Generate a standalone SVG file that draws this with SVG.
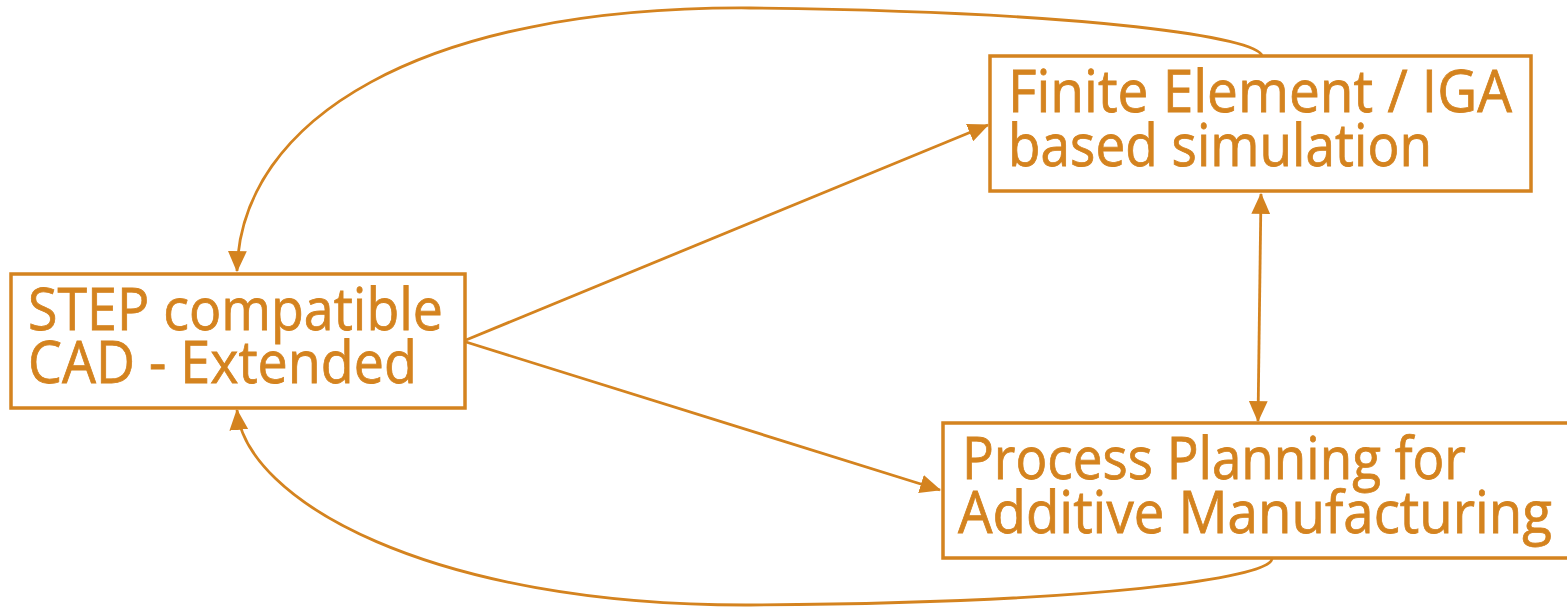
<svg xmlns="http://www.w3.org/2000/svg" width="1567" height="607" viewBox="0 0 1567 607">
  <style>
    .box { fill: #ffffff; stroke: #D4831F; stroke-width: 3.5; }
    .label { font-family: "Open Sans", "Noto Sans", sans-serif; font-size: 59px; fill: #D4831F; stroke: #D4831F; stroke-width: 0.8; }
    .link { fill: none; stroke: #D4831F; stroke-width: 2.8; }
  </style>
  <defs>
    <marker id="arrow" markerUnits="userSpaceOnUse" markerWidth="21" markerHeight="19" refX="18" refY="8.5" orient="auto-start-reverse" viewBox="0 0 19 17">
      <path d="M0,0 L19,8.5 L0,17 Z" fill="#D4831F"/>
    </marker>
  </defs>

  <g id="connectors">
    <!-- CAD to simulation -->
    <path class="link" d="M466,340 L988,125" marker-end="url(#arrow)"/>
    <!-- CAD to process planning -->
    <path class="link" d="M466,342 L940,490" marker-end="url(#arrow)"/>
    <!-- simulation <-> process planning -->
    <path class="link" d="M1261,194 L1258,421" marker-start="url(#arrow)" marker-end="url(#arrow)"/>
    <!-- feedback from simulation to CAD -->
    <path class="link" d="M1262,56 C1258,38 1100,12 750,8 C420,6 240,120 237,271" marker-end="url(#arrow)"/>
    <!-- feedback from process planning to CAD -->
    <path class="link" d="M1272,559 C1268,578 1100,603 750,605 C430,606 245,500 237,410" marker-end="url(#arrow)"/>
  </g>

  <g id="node-cad">
    <rect class="box" x="11" y="274" width="454" height="134"/>
    <text class="label" x="28" y="330" textLength="415" lengthAdjust="spacingAndGlyphs">STEP compatible</text>
    <text class="label" x="28" y="383" textLength="389" lengthAdjust="spacingAndGlyphs">CAD - Extended</text>
  </g>

  <g id="node-simulation">
    <rect class="box" x="990" y="56" width="541" height="135"/>
    <text class="label" x="1008" y="112" textLength="504" lengthAdjust="spacingAndGlyphs">Finite Element / IGA</text>
    <text class="label" x="1008" y="166" textLength="424" lengthAdjust="spacingAndGlyphs">based simulation</text>
  </g>

  <g id="node-process">
    <rect class="box" x="943" y="423" width="640" height="135"/>
    <text class="label" x="962" y="479" textLength="504" lengthAdjust="spacingAndGlyphs">Process Planning for</text>
    <text class="label" x="958" y="533" textLength="594" lengthAdjust="spacingAndGlyphs">Additive Manufacturing</text>
  </g>
</svg>
